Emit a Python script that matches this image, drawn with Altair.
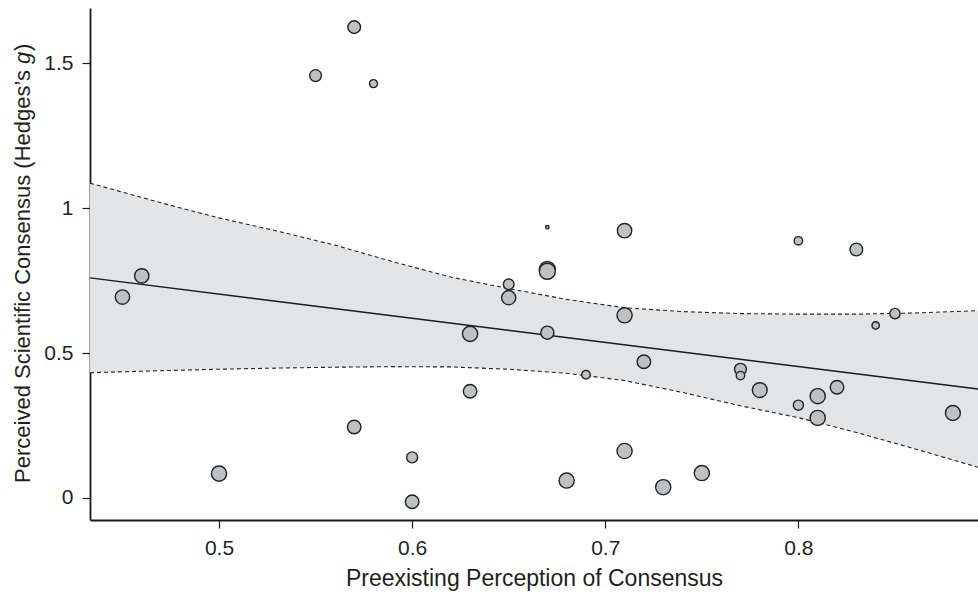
import altair as alt
import pandas as pd

# ---- data ----
pt_x = [0.45, 0.46, 0.50, 0.55, 0.57, 0.57, 0.58, 0.60, 0.60, 0.63, 0.63, 0.65, 0.65,
        0.67, 0.67, 0.67, 0.67, 0.68, 0.69, 0.71, 0.71, 0.71, 0.72, 0.73, 0.75, 0.77,
        0.77, 0.78, 0.80, 0.80, 0.81, 0.81, 0.82, 0.83, 0.84, 0.85, 0.88]
pt_y = [0.693, 0.766, 0.084, 1.457, 1.624, 0.245, 1.429, 0.140, -0.013, 0.566, 0.368, 0.737, 0.691,
        0.934, 0.788, 0.782, 0.570, 0.060, 0.425, 0.922, 0.630, 0.162, 0.470, 0.037, 0.086, 0.444,
        0.422, 0.372, 0.887, 0.320, 0.351, 0.276, 0.382, 0.857, 0.595, 0.636, 0.293]
pt_w = [289, 289, 324, 196, 225, 256, 90, 169, 256, 324, 256, 160, 280,
        16, 361, 361, 240, 324, 106, 289, 324, 324, 256, 324, 324, 196,
        100, 310, 100, 144, 324, 324, 256, 225, 76, 150, 313]

band_x = [0.4332, 0.47, 0.50, 0.53, 0.56, 0.59, 0.62, 0.65, 0.68, 0.71, 0.74, 0.77, 0.80, 0.83, 0.86, 0.893]
band_upper = [1.086, 1.018, 0.966, 0.921, 0.872, 0.815, 0.762, 0.722, 0.685, 0.656, 0.643, 0.636, 0.634, 0.634, 0.638, 0.646]
band_lower = [0.432, 0.439, 0.444, 0.448, 0.451, 0.453, 0.452, 0.444, 0.430, 0.405, 0.364, 0.318, 0.277, 0.226, 0.170, 0.106]

fit_x = [0.4332, 0.893]
fit_y = [0.759, 0.376]

x_ticks = [0.5, 0.6, 0.7, 0.8]
y_ticks = [0, 0.5, 1, 1.5]

x_title = "Preexisting Perception of Consensus"
y_title_parts = ["Perceived Scientific Consensus (Hedges\u2019s", "g", ")"]

X_DOMAIN = [0.4332, 0.893]
Y_DOMAIN = [-0.076, 1.69]

FONT = "'Liberation Sans', Arial, sans-serif"
TXT = "#231f20"

pts = pd.DataFrame({"x": pt_x, "y": pt_y, "w": pt_w})
band = pd.DataFrame({"x": band_x, "lo": band_lower, "hi": band_upper})
fit = pd.DataFrame({"x": fit_x, "y": fit_y})

xs = alt.Scale(domain=X_DOMAIN, nice=False, zero=False)
ys = alt.Scale(domain=Y_DOMAIN, nice=False, zero=False)

x_axis = alt.Axis(values=x_ticks, format=".1f", title=x_title,
                  titlePadding=9, titleFontSize=23)
y_axis = alt.Axis(values=y_ticks, format="~g", title=None)

area = alt.Chart(band).mark_area(color="#e3e4e6", opacity=1).encode(
    x=alt.X("x:Q", scale=xs, axis=x_axis),
    y=alt.Y("hi:Q", scale=ys, axis=y_axis),
    y2="lo:Q",
)
upper = alt.Chart(band).mark_line(color="#222222", strokeWidth=1.1, strokeDash=[4, 3]).encode(
    x=alt.X("x:Q", scale=xs), y=alt.Y("hi:Q", scale=ys))
lower = alt.Chart(band).mark_line(color="#222222", strokeWidth=1.1, strokeDash=[4, 3]).encode(
    x=alt.X("x:Q", scale=xs), y=alt.Y("lo:Q", scale=ys))
line = alt.Chart(fit).mark_line(color="#1a1a1a", strokeWidth=1.4).encode(
    x=alt.X("x:Q", scale=xs), y=alt.Y("y:Q", scale=ys))
points = alt.Chart(pts).mark_circle(opacity=1, fill="#bfc0c3", stroke="#222222",
                                    strokeWidth=1.4).encode(
    x=alt.X("x:Q", scale=xs),
    y=alt.Y("y:Q", scale=ys),
    size=alt.Size("w:Q", scale=alt.Scale(type="linear", domain=[0, 400], range=[0, 285]),
                  legend=None),
)

# y-axis title built from text pieces so that "g" can be italic
TS = 22
title_x = -60
y_main_end = 62
y_g_start = 56
y_p_start = 43
t_main = alt.Chart(pd.DataFrame({"t": [y_title_parts[0]]})).mark_text(
    font=FONT, fontSize=TS, color=TXT, angle=270, align="right", baseline="alphabetic"
).encode(text="t:N", x=alt.value(title_x), y=alt.value(y_main_end))
t_g = alt.Chart(pd.DataFrame({"t": [y_title_parts[1]]})).mark_text(
    font=FONT, fontSize=TS, fontStyle="italic", color=TXT, angle=270, align="left",
    baseline="alphabetic"
).encode(text="t:N", x=alt.value(title_x), y=alt.value(y_g_start))
t_p = alt.Chart(pd.DataFrame({"t": [y_title_parts[2]]})).mark_text(
    font=FONT, fontSize=TS, color=TXT, angle=270, align="left", baseline="alphabetic"
).encode(text="t:N", x=alt.value(title_x), y=alt.value(y_p_start))

chart = alt.layer(area, upper, lower, line, points, t_main, t_g, t_p).properties(
    width=888, height=512,
    autosize=alt.AutoSizeParams(type="none"),
    padding={"left": 90, "top": 8, "right": 0, "bottom": 74},
).configure_view(stroke=None).configure_axis(
    grid=False,
    domainColor="#1a1a1a", domainWidth=1.8,
    tickColor="#1a1a1a", tickSize=8, tickWidth=1.2,
    labelFont=FONT, labelFontSize=21, labelColor=TXT, labelPadding=9,
    titleFont=FONT, titleColor=TXT, titleFontWeight="normal",
)

chart.save("out.html", embed_options={"renderer": "svg", "actions": False})
